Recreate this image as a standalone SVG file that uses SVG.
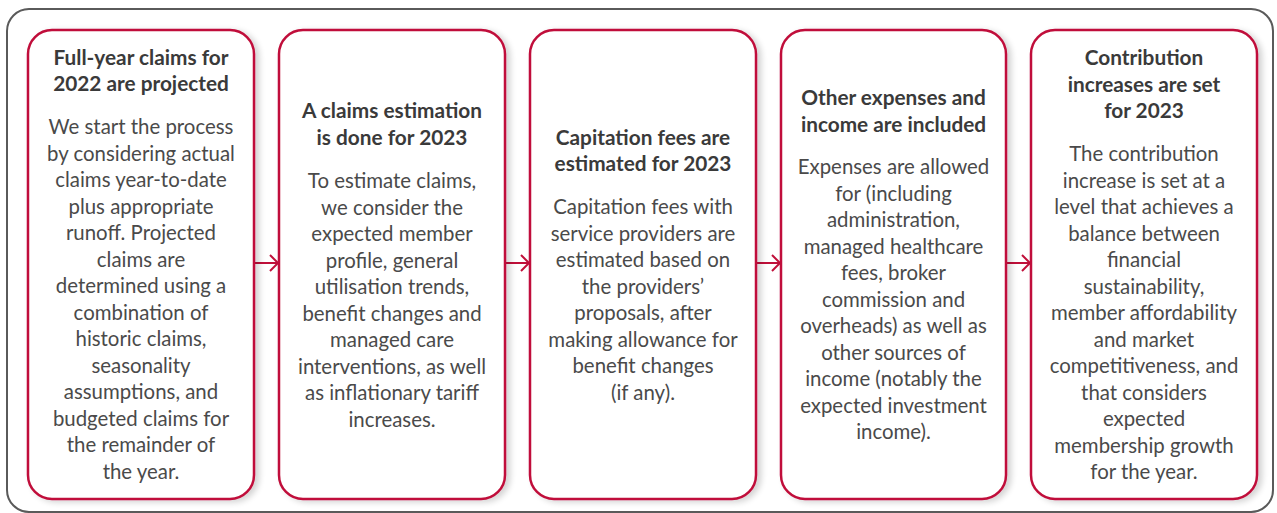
<svg xmlns="http://www.w3.org/2000/svg" width="1277" height="513" viewBox="0 0 1277 513">
<style>
.outer{fill:#fff;stroke:#5a5a5a;stroke-width:2}
.box{fill:#fff;stroke:#c0103a;stroke-width:2.5}
.t{font-family:Lato,"Open Sans",sans-serif;font-size:20.8px;font-weight:bold;fill:#3a3a3a;text-anchor:middle}
.b{font-family:Lato,"Open Sans",sans-serif;font-size:20.4px;fill:#4a4a4a;text-anchor:middle}
.c{fill:none;stroke:#c0103a;stroke-width:2}
</style>
<defs>
<filter id="sh" x="-10%" y="-5%" width="130%" height="115%">
<feGaussianBlur in="SourceAlpha" stdDeviation="3"/>
<feOffset dx="4" dy="2" result="o"/>
<feComponentTransfer><feFuncA type="linear" slope="0.18"/></feComponentTransfer>
<feMerge><feMergeNode/><feMergeNode in="SourceGraphic"/></feMerge>
</filter>
</defs>
<rect class="outer" x="7" y="9" width="1266" height="503" rx="22"/>
<g id="connectors">
<path class="c" d="M254 263H278M270 255L278 263L270 271"/>
<path class="c" d="M505 263H529M521 255L529 263L521 271"/>
<path class="c" d="M756 263H780M772 255L780 263L772 271"/>
<path class="c" d="M1006 263H1030M1022 255L1030 263L1022 271"/>
</g>
<g id="n1">
<rect class="box" x="28" y="30" width="226" height="469" rx="24" filter="url(#sh)"/>
<text class="t" x="141"><tspan x="141" y="65">Full-year claims for</tspan><tspan x="141" y="91">2022 are projected</tspan></text>
<text class="b" x="141"><tspan x="141" y="134">We start the process</tspan><tspan x="141" y="160.5">by considering actual</tspan><tspan x="141" y="187">claims year-to-date</tspan><tspan x="141" y="213.5">plus appropriate</tspan><tspan x="141" y="240">runoff. Projected</tspan><tspan x="141" y="266.5">claims are</tspan><tspan x="141" y="293">determined using a</tspan><tspan x="141" y="319.5">combination of</tspan><tspan x="141" y="346">historic claims,</tspan><tspan x="141" y="372.5">seasonality</tspan><tspan x="141" y="399">assumptions, and</tspan><tspan x="141" y="425.5">budgeted claims for</tspan><tspan x="141" y="452">the remainder of</tspan><tspan x="141" y="478.5">the year.</tspan></text>
</g>
<g id="n2">
<rect class="box" x="279" y="30" width="226" height="469" rx="24" filter="url(#sh)"/>
<text class="t"><tspan x="392" y="118">A claims estimation</tspan><tspan x="392" y="145">is done for 2023</tspan></text>
<text class="b"><tspan x="392" y="188">To estimate claims,</tspan><tspan x="392" y="214.5">we consider the</tspan><tspan x="392" y="241">expected member</tspan><tspan x="392" y="267.5">profile, general</tspan><tspan x="392" y="294">utilisation trends,</tspan><tspan x="392" y="320.5">benefit changes and</tspan><tspan x="392" y="347">managed care</tspan><tspan x="392" y="373.5">interventions, as well</tspan><tspan x="392" y="400">as inflationary tariff</tspan><tspan x="392" y="426.5">increases.</tspan></text>
</g>
<g id="n3">
<rect class="box" x="530" y="30" width="226" height="469" rx="24" filter="url(#sh)"/>
<text class="t"><tspan x="643" y="145">Capitation fees are</tspan><tspan x="643" y="171">estimated for 2023</tspan></text>
<text class="b"><tspan x="643" y="214">Capitation fees with</tspan><tspan x="643" y="240.5">service providers are</tspan><tspan x="643" y="267">estimated based on</tspan><tspan x="643" y="293.5">the providers’</tspan><tspan x="643" y="320">proposals, after</tspan><tspan x="643" y="346.5">making allowance for</tspan><tspan x="643" y="373">benefit changes</tspan><tspan x="643" y="399.5">(if any).</tspan></text>
</g>
<g id="n4">
<rect class="box" x="781" y="30" width="225" height="469" rx="24" filter="url(#sh)"/>
<text class="t"><tspan x="893.5" y="105">Other expenses and</tspan><tspan x="893.5" y="132">income are included</tspan></text>
<text class="b"><tspan x="893.5" y="174">Expenses are allowed</tspan><tspan x="893.5" y="200.5">for (including</tspan><tspan x="893.5" y="227">administration,</tspan><tspan x="893.5" y="253.5">managed healthcare</tspan><tspan x="893.5" y="280">fees, broker</tspan><tspan x="893.5" y="306.5">commission and</tspan><tspan x="893.5" y="333">overheads) as well as</tspan><tspan x="893.5" y="359.5">other sources of</tspan><tspan x="893.5" y="386">income (notably the</tspan><tspan x="893.5" y="412.5">expected investment</tspan><tspan x="893.5" y="439">income).</tspan></text>
</g>
<g id="n5">
<rect class="box" x="1031" y="30" width="226" height="469" rx="24" filter="url(#sh)"/>
<text class="t"><tspan x="1144" y="65">Contribution</tspan><tspan x="1144" y="92">increases are set</tspan><tspan x="1144" y="118">for 2023</tspan></text>
<text class="b"><tspan x="1144" y="161">The contribution</tspan><tspan x="1144" y="187.5">increase is set at a</tspan><tspan x="1144" y="214">level that achieves a</tspan><tspan x="1144" y="240.5">balance between</tspan><tspan x="1144" y="267">financial</tspan><tspan x="1144" y="293.5">sustainability,</tspan><tspan x="1144" y="320">member affordability</tspan><tspan x="1144" y="346.5">and market</tspan><tspan x="1144" y="373">competitiveness, and</tspan><tspan x="1144" y="399.5">that considers</tspan><tspan x="1144" y="426">expected</tspan><tspan x="1144" y="452.5">membership growth</tspan><tspan x="1144" y="479">for the year.</tspan></text>
</g>
</svg>
